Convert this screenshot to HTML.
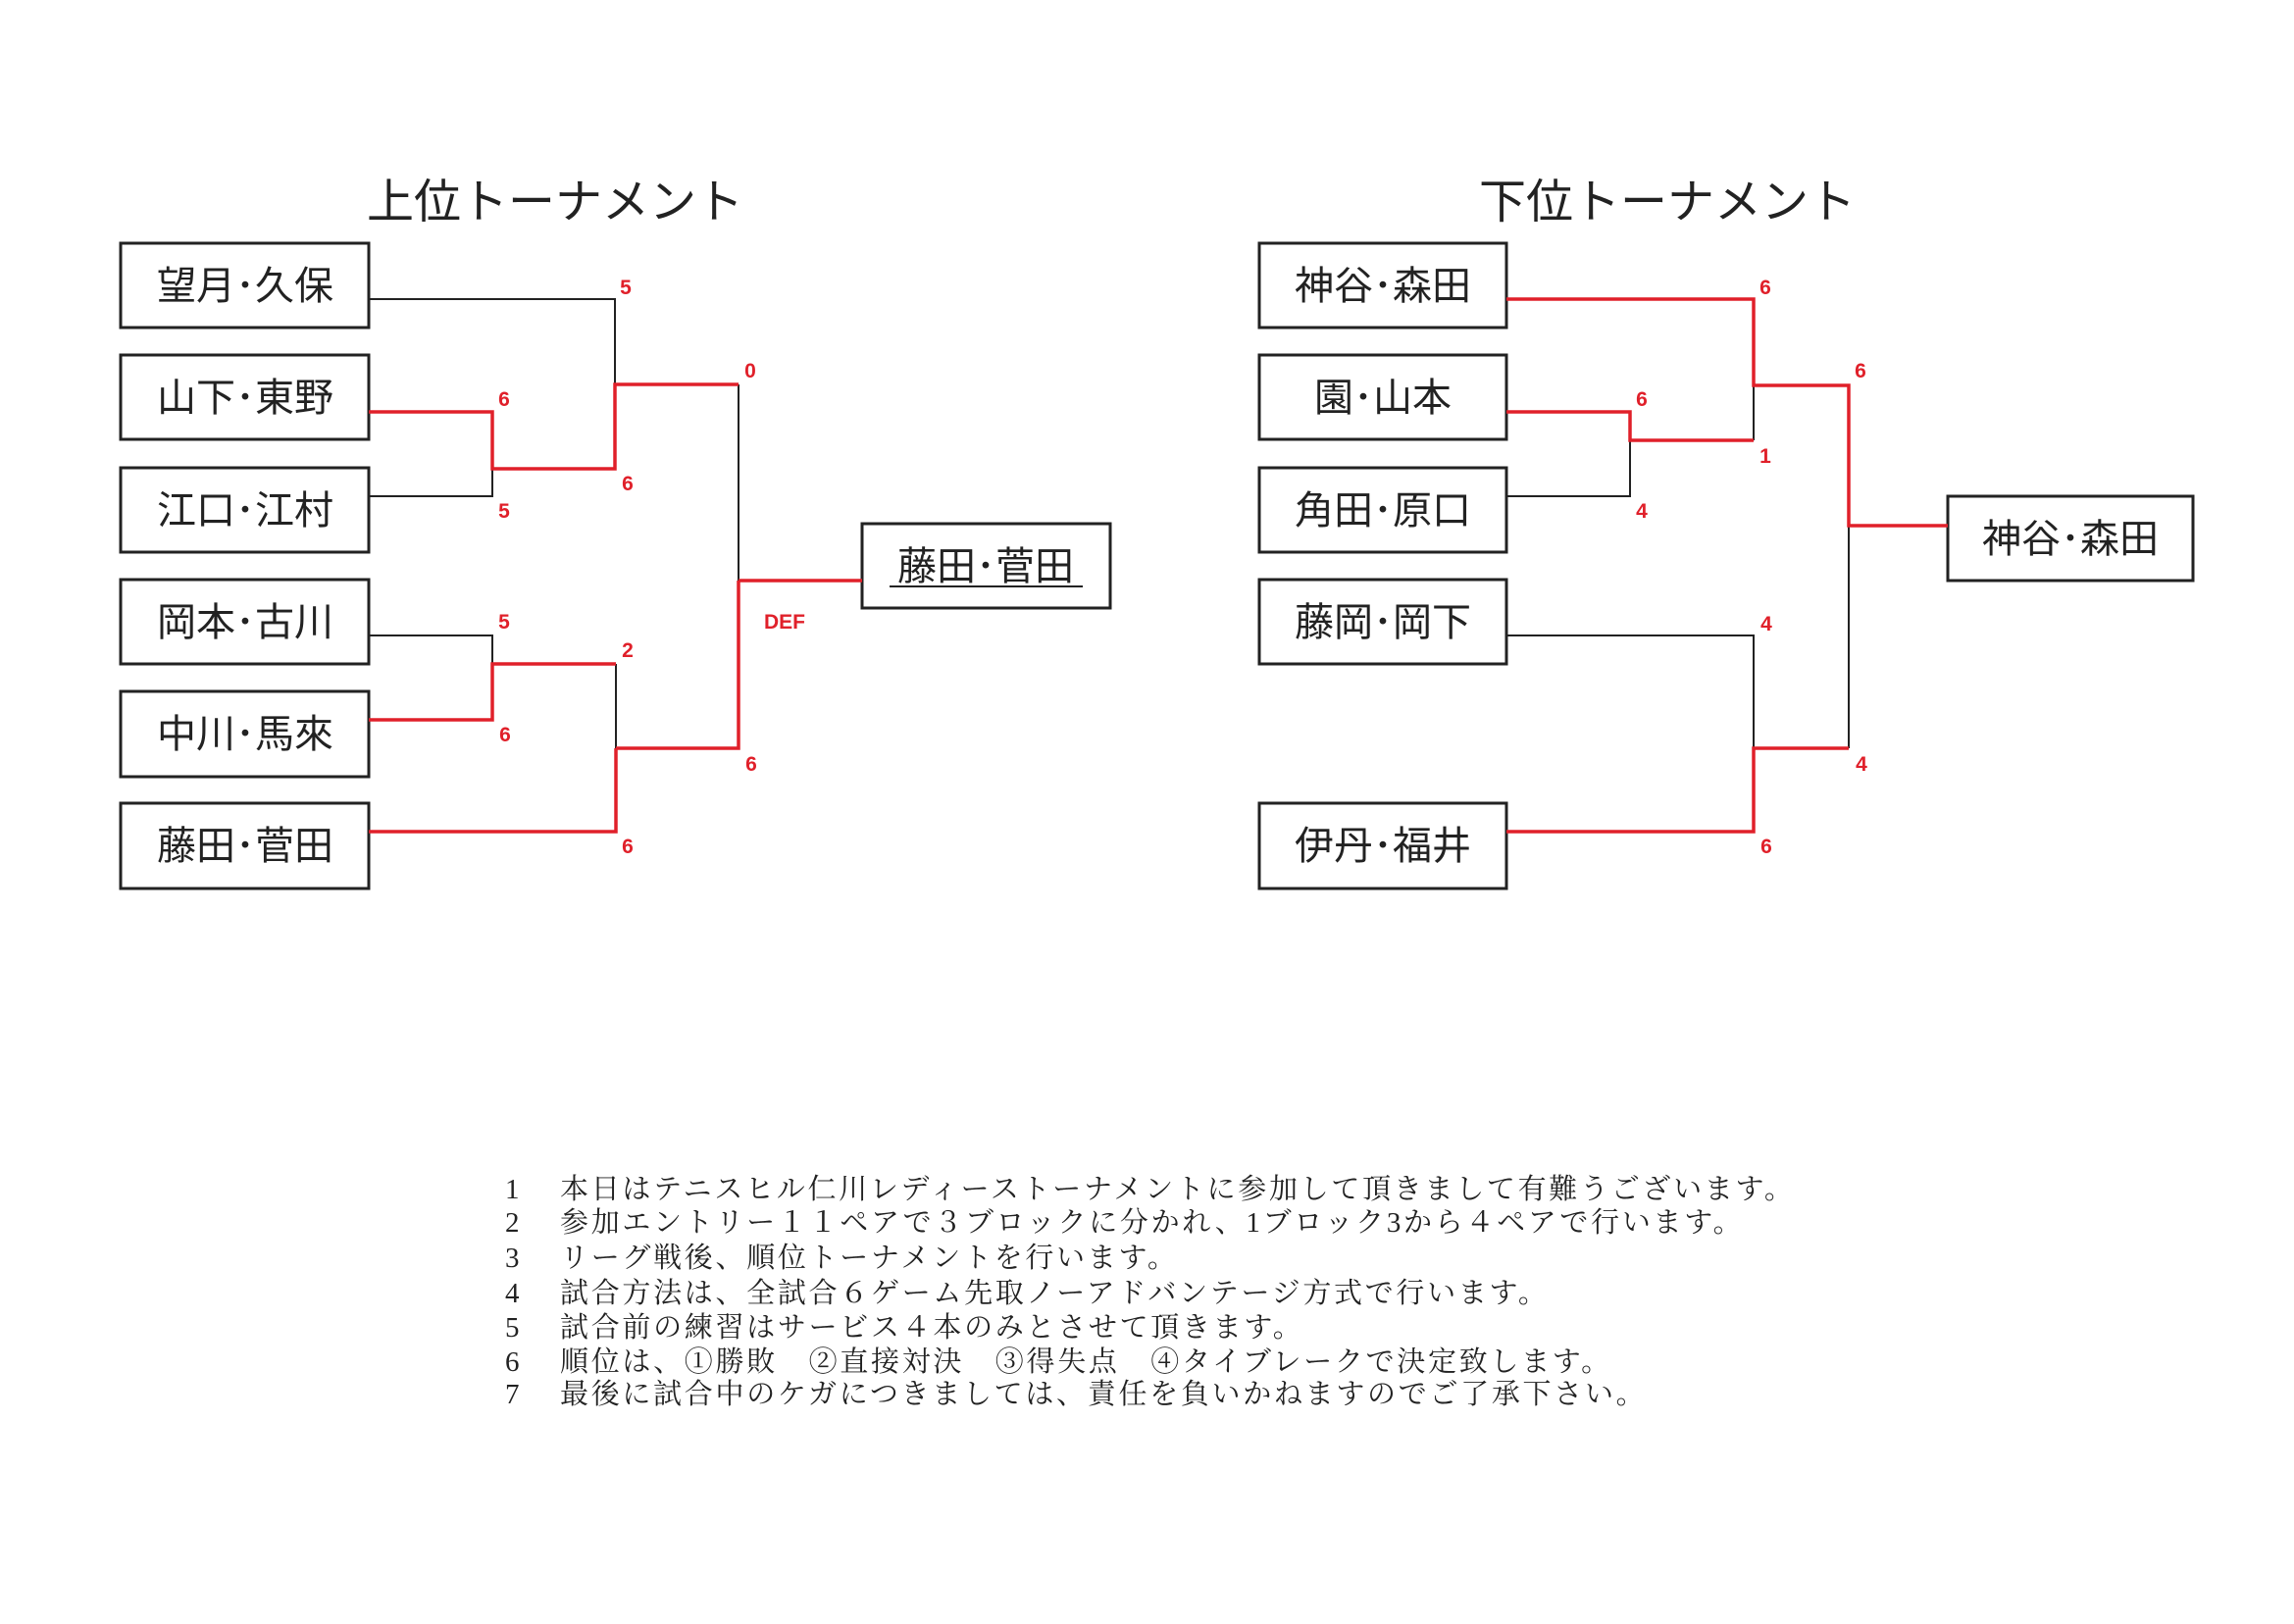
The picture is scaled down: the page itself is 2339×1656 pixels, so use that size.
<!DOCTYPE html>
<html><head><meta charset="utf-8"><style>
body{margin:0;background:#fff;}
svg{display:block;}
.n{font-family:"Liberation Sans","Noto Sans CJK JP",sans-serif;font-size:40px;fill:#222;}
.t{font-family:"Liberation Sans","Noto Sans CJK JP",sans-serif;font-size:48px;fill:#222;}
.s{font-family:"Liberation Sans",sans-serif;font-size:21px;font-weight:bold;fill:#e0202a;}
.m{font-family:"Liberation Serif","Noto Serif CJK SC",serif;font-size:29px;fill:#222;}
</style></head><body>
<svg width="2339" height="1656" viewBox="0 0 2339 1656" xmlns="http://www.w3.org/2000/svg">
<g fill="none" stroke="#222" stroke-width="3">
<rect x="123" y="248" width="253" height="86"/><rect x="123" y="362" width="253" height="86"/>
<rect x="123" y="477" width="253" height="86"/><rect x="123" y="591" width="253" height="86"/>
<rect x="123" y="705" width="253" height="87"/><rect x="123" y="819" width="253" height="87"/>
<rect x="879" y="534" width="253" height="86"/>
<rect x="1284" y="248" width="252" height="86"/><rect x="1284" y="362" width="252" height="86"/>
<rect x="1284" y="477" width="252" height="86"/><rect x="1284" y="591" width="252" height="86"/>
<rect x="1284" y="819" width="252" height="87"/>
<rect x="1986" y="506" width="250" height="86"/>
</g>
<g fill="none" stroke="#222" stroke-width="2">
<polyline points="376,305 627,305 627,392"/>
<polyline points="376,506 502,506 502,478"/>
<line x1="753" y1="392" x2="753" y2="592"/>
<polyline points="376,648 502,648 502,677"/>
<line x1="628" y1="677" x2="628" y2="763"/>
<line x1="1788" y1="393" x2="1788" y2="449"/>
<polyline points="1536,506 1662,506 1662,449"/>
<line x1="1885" y1="536" x2="1885" y2="763"/>
<polyline points="1536,648 1788,648 1788,763"/>
</g>
<g fill="none" stroke="#e0202a" stroke-width="3.5">
<polyline points="376,420 502,420 502,478 627,478 627,392 753,392"/>
<polyline points="753,592 879,592"/>
<polyline points="753,592 753,763 628,763"/>
<polyline points="376,734 502,734 502,677 628,677"/>
<polyline points="376,848 628,848 628,763"/>
<polyline points="1536,305 1788,305 1788,393 1885,393 1885,536 1986,536"/>
<polyline points="1536,420 1662,420 1662,449 1788,449"/>
<polyline points="1536,848 1788,848 1788,763 1885,763"/>
</g>
<text class="t" x="566" y="222" text-anchor="middle">上位トーナメント</text>
<text class="t" x="1700" y="222" text-anchor="middle">下位トーナメント</text>
<g class="n" text-anchor="middle">
<text x="250" y="305">望月･久保</text><text x="250" y="419">山下･東野</text>
<text x="250" y="534">江口･江村</text><text x="250" y="648">岡本･古川</text>
<text x="250" y="762">中川･馬來</text><text x="250" y="876">藤田･菅田</text>
<text x="1005" y="591">藤田･菅田</text>
<text x="1410" y="305">神谷･森田</text><text x="1410" y="419">園･山本</text>
<text x="1410" y="534">角田･原口</text><text x="1410" y="648">藤岡･岡下</text>
<text x="1410" y="876">伊丹･福井</text><text x="2111" y="563">神谷･森田</text>
</g>
<line x1="907" y1="598" x2="1104" y2="598" stroke="#222" stroke-width="2"/>
<g class="s" text-anchor="middle">
<text x="638" y="300">5</text><text x="514" y="414">6</text><text x="514" y="528">5</text>
<text x="640" y="500">6</text><text x="765" y="385">0</text><text x="800" y="641">DEF</text>
<text x="514" y="641">5</text><text x="640" y="670">2</text><text x="515" y="756">6</text>
<text x="766" y="786">6</text><text x="640" y="870">6</text>
<text x="1800" y="300">6</text><text x="1674" y="414">6</text><text x="1800" y="472">1</text>
<text x="1674" y="528">4</text><text x="1897" y="385">6</text><text x="1801" y="643">4</text>
<text x="1898" y="786">4</text><text x="1801" y="870">6</text>
</g>
<g class="m">
<text x="515" y="1222">1</text><text x="571" y="1222" letter-spacing="2.7">本日はテニスヒル仁川レディーストーナメントに参加して頂きまして有難うございます。</text>
<text x="515" y="1256">2</text><text x="571" y="1256" letter-spacing="2.7">参加エントリー１１ペアで３ブロックに分かれ、1ブロック3から４ペアで行います。</text>
<text x="515" y="1292">3</text><text x="571" y="1292" letter-spacing="2.7">リーグ戦後、順位トーナメントを行います。</text>
<text x="515" y="1328">4</text><text x="571" y="1328" letter-spacing="2.7">試合方法は、全試合６ゲーム先取ノーアドバンテージ方式で行います。</text>
<text x="515" y="1363">5</text><text x="571" y="1363" letter-spacing="2.7">試合前の練習はサービス４本のみとさせて頂きます。</text>
<text x="515" y="1398">6</text><text x="571" y="1398" letter-spacing="2.7">順位は、①勝敗　②直接対決　③得失点　④タイブレークで決定致します。</text>
<text x="515" y="1431">7</text><text x="571" y="1431" letter-spacing="2.7">最後に試合中のケガにつきましては、責任を負いかねますのでご了承下さい。</text>
</g>
</svg>
</body></html>
